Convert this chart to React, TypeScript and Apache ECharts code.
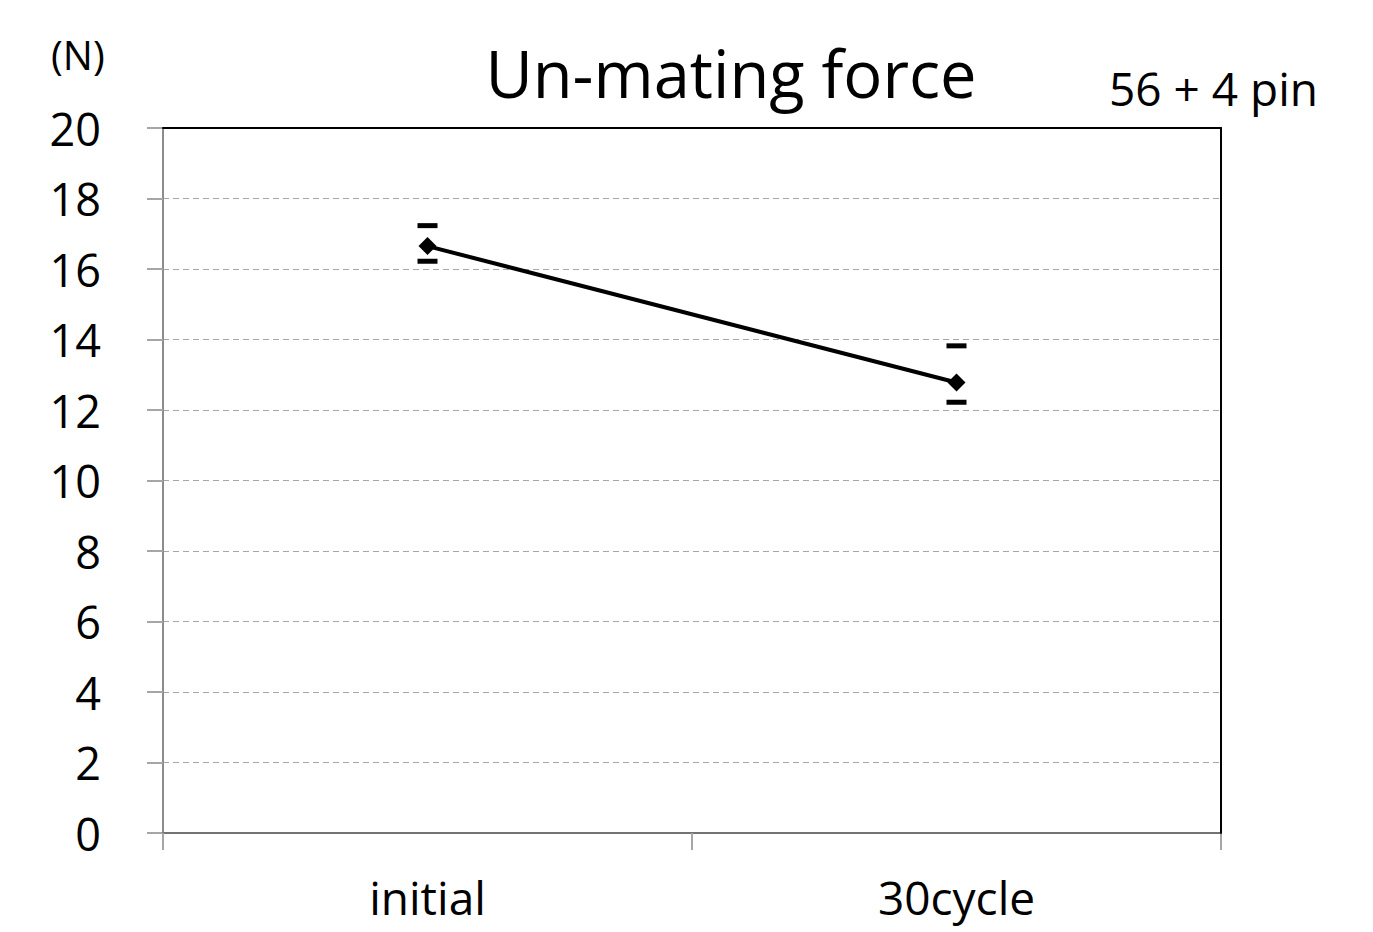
import React, { useEffect, useRef } from "react";
import * as echarts from "echarts";

const categories = ["initial", "30cycle"];
const meanValues = [16.65, 12.78];
const maxValues = [17.23, 13.82];
const minValues = [16.22, 12.22];
const yTicks = { min: 0, max: 20, interval: 2 };

const FONT = "Open Sans";

export default function App() {
  const ref = useRef<HTMLDivElement>(null);
  useEffect(() => {
    document.body.style.margin = "0";
    const chart = echarts.init(ref.current!, undefined, { renderer: "svg" });
    chart.setOption({
      animation: false,
      backgroundColor: "#ffffff",
      textStyle: { fontFamily: FONT },
      grid: { left: 163, right: 152, top: 128, bottom: 99 },
      xAxis: [
        {
          type: "category",
          data: categories,
          boundaryGap: true,
          z: 4,
          axisLine: { onZero: false, lineStyle: { color: "#737373", width: 2 } },
          axisTick: { show: true, length: 17, lineStyle: { color: "#a6a6a6", width: 2 } },
          axisLabel: { color: "#000", fontSize: 46, fontFamily: FONT, margin: 41 },
          splitLine: { show: false },
        },
        {
          type: "category",
          data: categories,
          position: "top",
          z: 5,
          axisLine: { onZero: false, lineStyle: { color: "#000", width: 2 } },
          axisTick: { show: false },
          axisLabel: { show: false },
          splitLine: { show: false },
        },
      ],
      yAxis: [
        {
          type: "value",
          min: yTicks.min,
          max: yTicks.max,
          interval: yTicks.interval,
          axisLine: { show: true, onZero: false, lineStyle: { color: "#8c8c8c", width: 2 } },
          axisTick: { show: true, length: 16, lineStyle: { color: "#a6a6a6", width: 2 } },
          axisLabel: { color: "#000", fontSize: 45, fontFamily: FONT, margin: 62 },
          splitLine: { show: true, lineStyle: { color: "#a6a6a6", type: [6, 4], width: 1 } },
        },
        {
          type: "value",
          min: yTicks.min,
          max: yTicks.max,
          interval: yTicks.interval,
          position: "right",
          z: 5,
          axisLine: { show: true, onZero: false, lineStyle: { color: "#000", width: 2 } },
          axisTick: { show: false },
          axisLabel: { show: false },
          splitLine: { show: false },
        },
      ],
      title: [
        {
          text: "Un-mating force",
          left: 726,
          top: 35,
          textAlign: "center",
          textStyle: { fontSize: 65, fontWeight: "normal", color: "#000", fontFamily: FONT },
        },
        {
          text: "(N)",
          left: 46,
          top: 29,
          textStyle: { fontSize: 40, fontWeight: "normal", color: "#000", fontFamily: FONT },
        },
        {
          text: "56 + 4 pin",
          left: 1104,
          top: 60,
          textStyle: { fontSize: 46, fontWeight: "normal", color: "#000", fontFamily: FONT },
        },
      ],
      series: [
        {
          name: "mean",
          type: "line",
          data: meanValues,
          symbol: "diamond",
          symbolSize: 18,
          itemStyle: { color: "#000", opacity: 1 },
          lineStyle: { color: "#000", width: 4 },
          z: 3,
        },
        {
          name: "max",
          type: "scatter",
          data: maxValues,
          symbol: "rect",
          symbolSize: [20, 5],
          itemStyle: { color: "#000", opacity: 1 },
          z: 3,
        },
        {
          name: "min",
          type: "scatter",
          data: minValues,
          symbol: "rect",
          symbolSize: [20, 5],
          itemStyle: { color: "#000", opacity: 1 },
          z: 3,
        },
      ],
    });
    return () => chart.dispose();
  }, []);
  return <div ref={ref} style={{ width: 1373, height: 932 }} />;
}
